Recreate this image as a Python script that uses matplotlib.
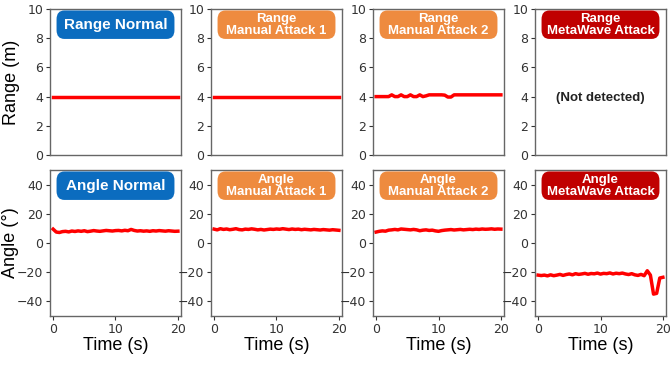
import numpy as np
import matplotlib.pyplot as plt
from matplotlib.patches import FancyBboxPatch

# time axis (s), 0.5 s steps
t = np.arange(0, 20.5, 0.5)

range_normal = [4.0] * len(t)
range_manual1 = [4.0] * len(t)
range_manual2 = [4.0, 4.0, 4.0, 4.0, 4.0, 4.12, 4.0, 4.0, 4.12, 4.0, 4.0, 4.12, 4.0,
                 4.0, 4.12, 4.0, 4.05, 4.12, 4.12, 4.12, 4.12, 4.12, 4.1, 3.97, 3.97,
                 4.12, 4.12, 4.12, 4.12, 4.12, 4.12, 4.12, 4.12, 4.12, 4.12, 4.12, 4.12,
                 4.12, 4.12, 4.12, 4.12]

angle_normal = [9.5, 7.5, 7.2, 7.8, 8.0, 7.6, 8.2, 7.9, 8.3, 8.0, 8.4, 7.8, 8.1, 8.5,
                8.2, 8.0, 8.3, 8.6, 8.4, 8.2, 8.5, 8.6, 8.3, 8.7, 8.4, 9.3, 8.6, 8.2,
                8.4, 8.1, 8.3, 8.0, 8.4, 8.2, 8.5, 8.3, 8.1, 8.4, 8.2, 8.0, 8.1]
angle_manual1 = [9.5, 9.0, 9.8, 9.3, 9.6, 9.1, 9.4, 9.8, 9.2, 9.0, 9.5, 9.3, 9.7,
                 9.4, 9.0, 9.3, 8.9, 9.2, 9.5, 9.3, 9.6, 9.4, 9.8, 9.5, 9.2, 9.6,
                 9.3, 9.5, 9.1, 9.4, 9.2, 9.0, 9.3, 9.1, 8.9, 9.2, 9.0, 8.8, 9.1,
                 8.9, 8.7]
angle_manual2 = [7.5, 8.0, 8.3, 8.1, 8.8, 9.0, 9.3, 9.0, 9.6, 9.4, 9.2, 9.0, 9.3,
                 9.0, 8.4, 8.8, 9.0, 8.6, 8.8, 8.3, 8.0, 8.5, 8.8, 9.0, 9.2, 8.9,
                 9.1, 9.3, 9.0, 9.2, 9.4, 9.2, 9.5, 9.3, 9.6, 9.4, 9.5, 9.7, 9.4,
                 9.6, 9.5]
angle_meta = [-22.0, -22.3, -22.0, -22.5, -21.8, -22.4, -22.0, -21.5, -22.2, -21.6,
              -21.2, -21.8, -21.0, -21.5, -21.2, -20.8, -21.4, -20.9, -21.1, -20.6,
              -21.3, -20.8, -21.0, -20.5, -21.2, -20.7, -21.0, -20.6, -21.2, -21.6,
              -21.0, -21.8, -22.2, -21.5, -22.4, -19.0, -22.0, -35.0, -34.5, -24.0,
              -23.5]

range_series = [range_normal, range_manual1, range_manual2, None]
angle_series = [angle_normal, angle_manual1, angle_manual2, angle_meta]

range_titles = ["Range Normal", "Range\nManual Attack 1", "Range\nManual Attack 2",
                "Range\nMetaWave Attack"]
angle_titles = ["Angle Normal", "Angle\nManual Attack 1", "Angle\nManual Attack 2",
                "Angle\nMetaWave Attack"]
box_colors = ["#0b6cbf", "#ee8b3f", "#ee8b3f", "#c00000"]

fig = plt.figure(figsize=(6.7, 3.65), dpi=100)
W, H = 670, 365
lefts = [50, 211, 373, 535]
aw = 131
rows = [(9, 155), (170, 316)]

tick_col = "#333333"
spine_col = "#666666"
label_font = "Liberation Sans"


def add_title(ax, text, color, big):
    box = FancyBboxPatch((0.05, 0.795), 0.9, 0.195,
                         boxstyle="round,pad=0,rounding_size=0.06",
                         transform=ax.transAxes, facecolor=color,
                         edgecolor="none", zorder=3, clip_on=False)
    ax.add_patch(box)
    ax.text(0.5, 0.892, text, transform=ax.transAxes, ha="center", va="center",
            color="white", fontweight="bold", fontsize=11 if big else 9.5,
            family=label_font, linespacing=1.0, zorder=4)


for r, (top, bottom) in enumerate(rows):
    for c in range(4):
        ax = fig.add_axes([lefts[c] / W, 1 - bottom / H, aw / W, (bottom - top) / H])
        ax.set_xlim(-0.5, 20.5)
        ax.tick_params(colors=tick_col, labelsize=9, length=3, width=0.8, pad=2)
        for s in ax.spines.values():
            s.set_color(spine_col)
            s.set_linewidth(1.0)
        if r == 0:
            ax.set_ylim(0, 10)
            ax.set_yticks([0, 2, 4, 6, 8, 10])
            ax.set_xticks([])
            data = range_series[c]
            if data is not None:
                ax.plot(t, data, color="red", linewidth=2.5)
            else:
                ax.text(0.5, 0.39, "(Not detected)", transform=ax.transAxes,
                        ha="center", va="center", fontsize=9.5, fontweight="bold",
                        family=label_font, color="#222222")
            add_title(ax, range_titles[c], box_colors[c], c == 0)
            if c == 0:
                ax.set_ylabel("Range (m)", fontsize=13, family=label_font)
                ax.yaxis.set_label_coords(-0.23, 0.5)
        else:
            ax.set_ylim(-50, 50)
            ax.set_yticks([-40, -20, 0, 20, 40])
            ax.set_xticks([0, 10, 20])
            ax.plot(t, angle_series[c], color="red", linewidth=2.5)
            add_title(ax, angle_titles[c], box_colors[c], c == 0)
            ax.set_xlabel("Time (s)", fontsize=13, labelpad=1, family=label_font)
            if c == 0:
                ax.set_ylabel("Angle (°)", fontsize=13, family=label_font)
                ax.yaxis.set_label_coords(-0.24, 0.5)

fig.savefig("out.png", dpi=100)
